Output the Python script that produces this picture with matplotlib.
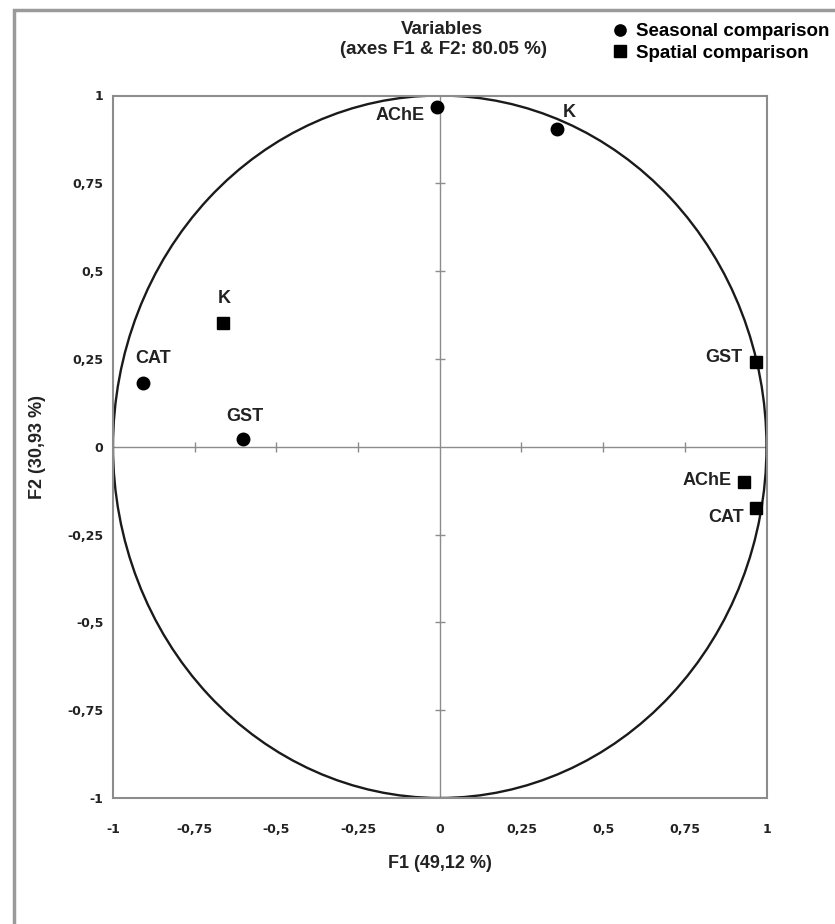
import matplotlib.pyplot as plt
from matplotlib.patches import Circle, Rectangle

plt.rcParams['font.family'] = ['Liberation Sans', 'DejaVu Sans']

# PCA variable coordinates (F1, F2)
seasonal_names = ['AChE', 'K', 'CAT', 'GST']
seasonal_f1 = [-0.008, 0.359, -0.908, -0.602]
seasonal_f2 = [0.967, 0.904, 0.181, 0.022]

spatial_names = ['K', 'GST', 'AChE', 'CAT']
spatial_f1 = [-0.663, 0.968, 0.931, 0.968]
spatial_f2 = [0.352, 0.241, -0.100, -0.174]

ticks = [-1, -0.75, -0.5, -0.25, 0, 0.25, 0.5, 0.75, 1]
tick_labels = ['-1', '-0,75', '-0,5', '-0,25', '0', '0,25', '0,5', '0,75', '1']

# label offsets in points (dx, dy, ha, va)
seasonal_off = [(-9, -6, 'right', 'center'), (4, 12, 'left', 'center'),
                (7, 18, 'center', 'center'), (1, 16, 'center', 'center')]
spatial_off = [(1, 18, 'center', 'center'), (-10, 3, 'right', 'center'),
               (-9, 1, 'right', 'center'), (-9, -7, 'right', 'center')]

fig = plt.figure(figsize=(8.35, 9.24), dpi=100)
ax = fig.add_axes([113/835, 1-798/924, 653.5/835, 702.5/924])

# outer frame of the figure (only top and left edges visible)
fig.patches.append(Rectangle((14/835, -0.1), 1.2, 1.1 - 10/924, transform=fig.transFigure,
                             fill=False, edgecolor='#9a9a9a', linewidth=2.5))

ax.add_patch(Circle((0, 0), 1, fill=False, edgecolor='#1a1a1a', linewidth=1.7, zorder=2))
ax.axhline(0, color='#8c8c8c', linewidth=1, zorder=1)
ax.axvline(0, color='#8c8c8c', linewidth=1, zorder=1)
inner = [t for t in ticks if t not in (-1, 0, 1)]
ax.plot(inner, [0]*len(inner), linestyle='none', marker='|', color='#8c8c8c', markersize=7)
ax.plot([0]*len(inner), inner, linestyle='none', marker='_', color='#8c8c8c', markersize=7)

s1, = ax.plot(seasonal_f1, seasonal_f2, linestyle='none', marker='o', color='black',
              markersize=9, zorder=3, label='Seasonal comparison')
s2, = ax.plot(spatial_f1, spatial_f2, linestyle='none', marker='s', color='black',
              markersize=9, zorder=3, label='Spatial comparison')

for name, x, y, (dx, dy, ha, va) in zip(seasonal_names, seasonal_f1, seasonal_f2, seasonal_off):
    ax.annotate(name, (x, y), xytext=(dx, dy), textcoords='offset points', ha=ha, va=va,
                fontsize=13, fontweight='bold', color='#222222')
for name, x, y, (dx, dy, ha, va) in zip(spatial_names, spatial_f1, spatial_f2, spatial_off):
    ax.annotate(name, (x, y), xytext=(dx, dy), textcoords='offset points', ha=ha, va=va,
                fontsize=13, fontweight='bold', color='#222222')

ax.set_xlim(-1, 1)
ax.set_ylim(-1, 1)
ax.set_xticks(ticks)
ax.set_xticklabels(tick_labels)
ax.set_yticks(ticks)
ax.set_yticklabels(tick_labels)
ax.tick_params(axis='x', length=0, pad=18, labelsize=9)
ax.tick_params(axis='y', length=0, pad=7, labelsize=9)
for lab in ax.get_xticklabels() + ax.get_yticklabels():
    lab.set_fontfamily('DejaVu Sans')
    lab.set_fontweight('bold')
    lab.set_color('#222222')
for sp in ax.spines.values():
    sp.set_color('#8c8c8c')
    sp.set_linewidth(1.5)

ax.set_xlabel('F1 (49,12 %)', fontsize=13, fontweight='bold', labelpad=14, color='#222222')
ax.set_ylabel('F2 (30,93 %)', fontsize=13, fontweight='bold', labelpad=15, color='#222222')

fig.text(442/835, 1-30/924, 'Variables', ha='center', va='center', fontsize=13.5, fontweight='bold',
         color='#222222')
fig.text(444/835, 1-49/924, '(axes F1 & F2: 80.05 %)', ha='center', va='center', fontsize=13.5,
         fontweight='bold', color='#222222')

ax.legend(handles=[s1, s2], loc='upper left', bbox_to_anchor=(610/835, 1-23/924),
          bbox_transform=fig.transFigure, frameon=False, prop={'size': 13.5, 'weight': 'bold'},
          handletextpad=0.3, handlelength=1.1, labelspacing=0.25, borderpad=0, borderaxespad=0,
          markerscale=0.9)

fig.savefig('out.png', dpi=100)
